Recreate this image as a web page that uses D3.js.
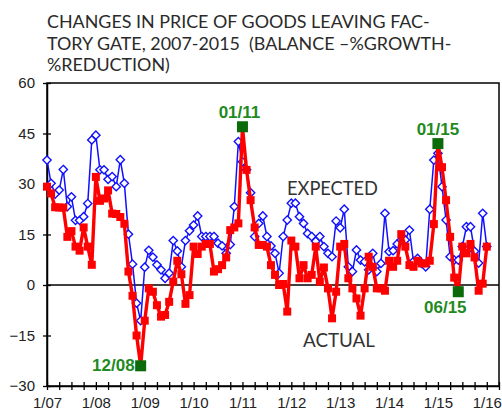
<!DOCTYPE html>
<html><head><meta charset="utf-8">
<script src="https://cdn.jsdelivr.net/npm/d3@7"></script>
<style>html,body{margin:0;padding:0;background:#fff;}svg{display:block;}</style>
</head><body>
<script>
// ---- data ----
const titleLines = ["CHANGES IN PRICE OF GOODS LEAVING FAC-", "TORY GATE, 2007-2015  (BALANCE \u2013%GROWTH-", "%REDUCTION)"];
const startYear = 2007;
// monthly values from 1/07 (index 0) to 1/16 (index 108)
const actual = [29.2,27.2,23.1,23,23,14.3,16,11.4,10.2,17.1,11.4,6,
  32.1,25,25.7,28.1,21.2,21.1,20.2,18.2,4,-3.2,-15,-24,
  -10.6,-1,-2,-6,-9.4,-8.9,-5,1,7.2,3.2,-5.6,-3,
  11.4,9.2,11.4,12.2,12.2,4,4.7,5.9,8.2,16.3,17.1,18.3,
  47,34.2,25.2,17.1,11.9,11.9,11.4,5.9,3,0,0.3,-7.9,
  13.2,11.4,2,5.9,2,3,11.4,1,5.2,-1,-9.9,-2,
  11.4,12.2,2,-1,-4,-9.1,-1,8.4,5.4,-1,-1,-1.7,
  7.2,5.4,7.2,15.1,11.4,5.9,5.4,7.2,6.4,6.4,7.2,18.1,
  42,35,25.2,14.3,2.2,-2,11.4,9.4,12.2,8.2,-1.7,0.4,
  11.4];
const expected = [37.1,30.2,27,28.2,34.3,23.3,26.2,19.2,19.2,20.3,24.2,43.1,
  44.5,34.2,34.2,31.4,32.2,29.2,37.2,30.2,15.1,6.2,-5.4,-10.6,
  5.3,10.3,8.3,6,4.5,2,3.5,13.2,10.1,5.4,13.2,16.1,
  17.8,20.5,14.4,14.4,14.4,14.4,12.4,11.6,9.4,12,23.3,42.6,
  36.6,34.2,27.4,14.4,18.3,20.5,14.4,11.6,9.4,3.5,14.4,19.3,
  24.3,24.3,20.3,18.3,15.3,14.4,13,14.4,11.4,9.4,8.4,19,
  17,22.5,5.4,4,10.4,7.4,6.9,4.5,9.4,4,6.4,21.3,
  9.9,10.2,12.2,13.4,13.4,16.3,7,7.9,6.4,5.4,22.5,37.1,
  39.1,29.2,19.3,8.4,7.4,7.4,11.4,17.3,17.3,10,6.5,21.3,
  11.4];
const highlightIdx = [23, 48, 96, 101];
const highlightLabels = ["12/08", "01/11", "01/15", "06/15"];
const yTicks = [-30,-15,0,15,30,45,60];
const xTickLabels = ["1/07","1/08","1/09","1/10","1/11","1/12","1/13","1/14","1/15","1/16"];
const seriesNames = ["EXPECTED", "ACTUAL"];

// ---- chart ----
const W = 502, H = 412;
const svg = d3.select("body").append("svg").attr("width", W).attr("height", H);
const x = d3.scaleLinear().domain([0, 111]).range([47, 499]);
const y = d3.scaleLinear().domain([-30, 60]).range([386, 83]);
const titleFont = "Lato, 'Open Sans', sans-serif";

// title
const tg = svg.append("g");
const tLines = tg.selectAll("text").data(titleLines).join("text")
  .attr("x", 47).attr("y", (d,i) => 28 + i*21.5)
  .style("white-space", "pre")
  .attr("font-family", titleFont).attr("font-size", 18).attr("fill", "#2a2a2a")
  .text(d => d);
// fit title width (line 1 ~383px)
const w1 = tLines.nodes()[0].getComputedTextLength();
tLines.attr("font-size", 18 * 383 / w1);

// frame
svg.append("rect").attr("x", x(0)).attr("y", y(60)).attr("width", x(111) - x(0)).attr("height", y(-30) - y(60))
  .attr("fill", "none").attr("stroke", "#000").attr("stroke-width", 1.5);
// zero line
svg.append("line").attr("x1", x(0)).attr("x2", x(111)).attr("y1", y(0)).attr("y2", y(0))
  .attr("stroke", "#000").attr("stroke-width", 1.5);

// y axis
const yAxis = svg.append("g").attr("transform", `translate(${x(0)},0)`)
  .call(d3.axisLeft(y).tickValues(yTicks).tickSize(0).tickPadding(12));
yAxis.select(".domain").attr("stroke-width", 1.5);
yAxis.selectAll(".tick line").attr("x1", -4).attr("x2", 4).attr("stroke-width", 1.3);
yAxis.selectAll("text").attr("font-family", "'Liberation Sans', Arial, sans-serif").attr("font-size", 15).attr("fill", "#222");

// x axis
const qTicks = d3.range(0, 112, 3);
const xAxis = svg.append("g").attr("transform", `translate(0,${y(-30)})`)
  .call(d3.axisBottom(x).tickValues(qTicks).tickSize(0)
    .tickFormat(d => d % 12 === 0 && d/12 < xTickLabels.length ? xTickLabels[d/12] : ""));
xAxis.select(".domain").attr("stroke-width", 1.5);
xAxis.selectAll(".tick line").attr("y1", -4).attr("y2", 4).attr("stroke-width", 1.3);
xAxis.selectAll("text").attr("y", 22).attr("dy", null)
  .attr("font-family", "'Liberation Sans', Arial, sans-serif").attr("font-size", 15).attr("fill", "#222");

// expected series
const line = d3.line().x((d,i) => x(i)).y(d => y(d));
svg.append("path").datum(expected).attr("d", line).attr("fill", "none")
  .attr("stroke", "#1010ff").attr("stroke-width", 1.5);
const diamond = d3.symbol().type(d3.symbolDiamond2).size(44);
svg.append("g").selectAll("path").data(expected).join("path")
  .attr("d", diamond).attr("transform", (d,i) => `translate(${x(i)},${y(d)})`)
  .attr("fill", "#fff").attr("stroke", "#1010ff").attr("stroke-width", 1.4);

// actual series
svg.append("path").datum(actual).attr("d", line).attr("fill", "none")
  .attr("stroke", "#ff0000").attr("stroke-width", 3.4).attr("stroke-linejoin", "round");
svg.append("g").selectAll("rect").data(actual).join("rect")
  .attr("x", (d,i) => x(i) - 4).attr("y", d => y(d) - 4).attr("width", 8).attr("height", 8)
  .attr("fill", "#ff0000");

// highlights
const hg = svg.append("g");
hg.selectAll("rect").data(highlightIdx).join("rect")
  .attr("x", i => x(i) - 5.5).attr("y", i => y(actual[i]) - 5.5).attr("width", 11).attr("height", 11)
  .attr("fill", "#0b6b0b");
const labelPos = [
  {dx: -6, dy: 5, anchor: "end"},
  {dx: -3, dy: -9, anchor: "middle"},
  {dx: 0, dy: -9, anchor: "middle"},
  {dx: -13, dy: 21, anchor: "middle"}
];
hg.selectAll("text").data(highlightIdx).join("text")
  .attr("x", (d,k) => x(d) + labelPos[k].dx).attr("y", (d,k) => y(actual[d]) + labelPos[k].dy)
  .attr("text-anchor", (d,k) => labelPos[k].anchor)
  .attr("font-family", "'Liberation Sans', Arial, sans-serif").attr("font-weight", "bold")
  .attr("font-size", 17).attr("fill", "#1f8a1f")
  .text((d,k) => highlightLabels[k]);

// series labels
const sl = svg.append("g");
const slPos = [{x: 287, y: 195, w: 91}, {x: 303, y: 347, w: 72}];
sl.selectAll("text").data(seriesNames).join("text")
  .attr("x", (d,i) => slPos[i].x).attr("y", (d,i) => slPos[i].y)
  .attr("font-family", titleFont).attr("font-size", 18).attr("fill", "#333")
  .text(d => d)
  .each(function(d,i){ const w = this.getComputedTextLength(); d3.select(this).attr("font-size", 18 * slPos[i].w / w); });
</script>
</body></html>
